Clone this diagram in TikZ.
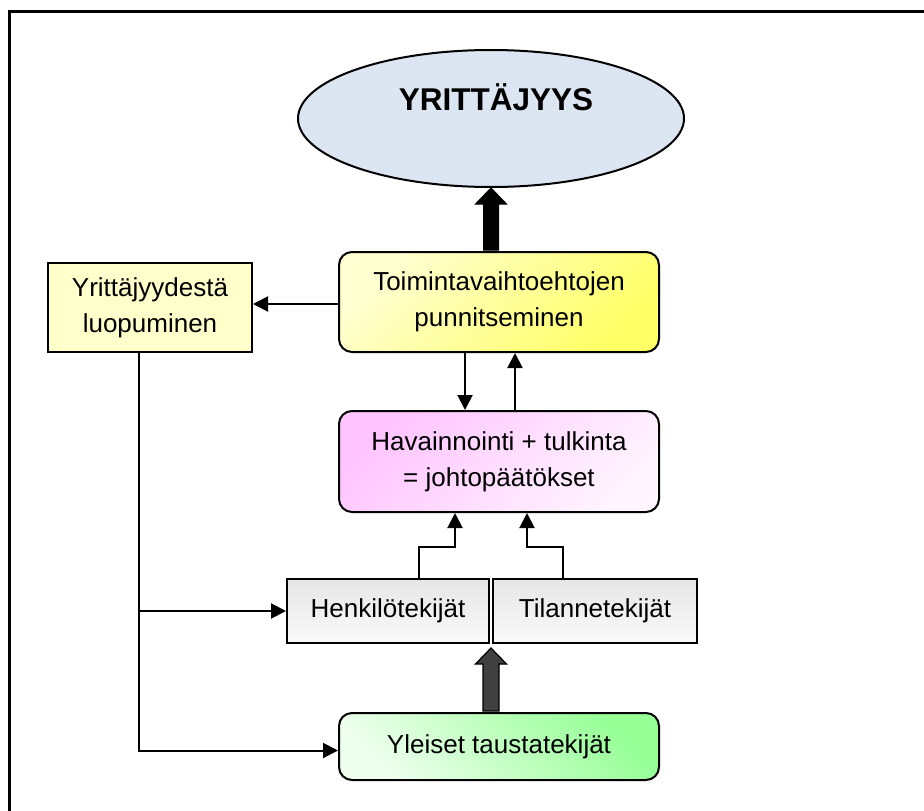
\documentclass[tikz,border=0pt]{standalone}
\usepackage{fontspec}
\setmainfont{Liberation Sans}
\usetikzlibrary{shapes.geometric,arrows.meta,calc}
\definecolor{ellfill}{HTML}{DCE6F2}
\definecolor{yelA}{HTML}{FFFFD2}
\definecolor{yelB}{HTML}{FFFF66}
\definecolor{pinkA}{HTML}{FFC4FF}
\definecolor{pinkB}{HTML}{FFF4FF}
\definecolor{greenA}{HTML}{96FF96}
\definecolor{greenB}{HTML}{EEFFEE}
\definecolor{grayA}{HTML}{E6E6E6}
\definecolor{grayB}{HTML}{FAFAFA}
\definecolor{leftfill}{HTML}{FFFFCC}
\definecolor{darkarrow}{HTML}{404040}
\tikzset{
  txt/.style={font=\fontsize{26}{36}\selectfont, align=center, text=black},
  outl/.style={draw=black, line width=2pt},
  roundbox/.style={outl, txt, rounded corners=13pt, minimum width=320pt, inner sep=0pt},
  sqbox/.style={outl, txt, inner sep=0pt},
  arr/.style={line width=2pt, -{Triangle[length=15pt,width=15pt]}},
  conn/.style={line width=2pt},
}
\begin{document}
\begin{tikzpicture}[x=1pt,y=-1pt]
\useasboundingbox (0,0) rectangle (924,811);
% frame (only top and left edges visible)
\draw[line width=3pt] (9,811) -- (9,11.5) -- (924,11.5);

% nodes
\node[ellipse, outl, fill=ellfill, minimum width=386pt, minimum height=137pt, inner sep=0pt] (E) at (491,118.5) {};
\node[txt, font=\fontsize{31.5}{36}\selectfont\bfseries] (Et) at (496,97) {YRITTÄJYYS};

\node[roundbox, minimum height=100pt, top color=yelA, bottom color=yelB, shading angle=45] (T) at (499,302) {Toimintavaihtoehtojen\\punnitseminen};

\node[sqbox, fill=leftfill, minimum width=204pt, minimum height=89pt] (L) at (150,307.5) {Yrittäjyydestä\\luopuminen};

\node[roundbox, minimum height=101pt, top color=pinkA, bottom color=pinkB, shading angle=45] (H) at (499,461.5) {Havainnointi + tulkinta\\= johtopäätökset};

\node[sqbox, minimum width=202pt, minimum height=64pt, top color=grayA, bottom color=grayB] (Hk) at (388,611) {Henkilötekijät};
\node[sqbox, minimum width=204pt, minimum height=64pt, top color=grayA, bottom color=grayB] (Tl) at (595,611) {Tilannetekijät};

\node[roundbox, minimum height=67pt, top color=greenA, bottom color=greenB, shading angle=-45] (Y) at (499,746.5) {Yleiset taustatekijät};

% big black arrow T -> E
\coordinate (Etip) at (E.south);
\coordinate (Ebase) at (E.south |- T.north);
\fill[black, draw=black, line width=1pt]
  ($(Ebase)+(-7.5,-1)$) -- ($(Etip)+(-7.5,16)$) -- ($(Etip)+(-15.5,16)$) -- (Etip)
  -- ($(Etip)+(15.5,16)$) -- ($(Etip)+(7.5,16)$) -- ($(Ebase)+(7.5,-1)$) -- cycle;

% dark gray arrow Y -> gap between Hk and Tl
\coordinate (Dtip) at ($(Hk.south east)!0.5!(Tl.south west)+(0,4)$);
\coordinate (Dbase) at (Dtip |- Y.north);
\filldraw[fill=darkarrow, draw=black, line width=1.2pt]
  ($(Dbase)+(-8,-1)$) -- ($(Dtip)+(-8,16)$) -- ($(Dtip)+(-15.5,16)$) -- (Dtip)
  -- ($(Dtip)+(15.5,16)$) -- ($(Dtip)+(8,16)$) -- ($(Dbase)+(8,-1)$) -- cycle;

% T -> L
\draw[arr] ($(T.west)+(0,2)$) -- ($(T.west -| L.east)+(0,2)$);

% T <-> H
\draw[arr] ($(T.south)+(-34,0)$) -- ($(H.north)+(-34,0)$);
\draw[arr] ($(H.north)+(16,0)$) -- ($(T.south)+(16,0)$);

% Hk, Tl -> H
\draw[arr] ($(Hk.north)+(31,0)$) |- ($(H.south)+(-44,34)$) -- ($(H.south)+(-44,0)$);
\draw[arr] ($(Tl.north)+(-32,0)$) |- ($(H.south)+(28,34)$) -- ($(H.south)+(28,0)$);

% L -> Hk, Y
\coordinate (Lfoot) at ($(L.south)+(-11,0)$);
\draw[arr] (Lfoot) |- ($(Y.west)+(0,4)$);
\draw[arr] (Lfoot |- Hk.west) -- (Hk.west);
\end{tikzpicture}
\end{document}
